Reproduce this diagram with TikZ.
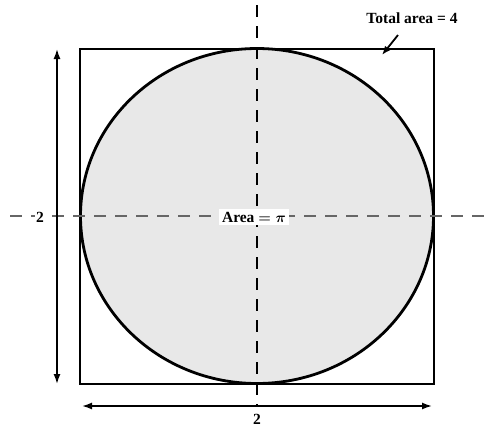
\documentclass[tikz,border=0pt]{standalone}
\usepackage{fontspec}
\setmainfont{Liberation Serif}
\usepackage{amsmath}
\usepackage{tikz}
\usetikzlibrary{arrows.meta}

\tikzset{
  lbl/.style={fill=white,inner sep=2pt,font=\bfseries\boldmath\fontsize{15.5}{18}\selectfont},
  dimarrow/.style={line width=1.6pt,{Latex[length=10pt,width=7pt]}-{Latex[length=10pt,width=7pt]}},
  axisline/.style={line width=1.1pt,gray!80!black,dash pattern=on 12pt off 9pt}
}

\begin{document}
\begin{tikzpicture}[x=1pt,y=-1pt]
                \useasboundingbox (0,0) rectangle (491,426);
                \filldraw[fill=gray!18,line width=2.8pt] (257,216) ellipse (176.5 and 167.5);
                \draw[line width=2pt] (80,49) rectangle (434,384);
                % axes through the centre
                \coordinate (vtop) at (257,5);
                \coordinate (vbot) at (257,406);
                \coordinate (hl) at (10,216);
                \coordinate (hr) at (491,216);
                \draw[axisline,black] (vtop) -- (vbot);
                \draw[axisline] (hl) -- (hr);
                % dimensions
                \coordinate (dl) at (82,406);
                \coordinate (dr) at (432,406);
                \coordinate (dt) at (57,49);
                \coordinate (db) at (57,384);
                \draw[dimarrow] (dl) -- (dr);
                \draw[dimarrow] (dt) -- (db);
                \node[lbl,inner sep=1pt] (wlab) at (257,419) {2};
                \node[lbl,inner sep=1pt] (hlab) at (40,217) {2};
                \node[lbl,inner sep=3pt] (area) at (254,217) {Area $=\pi$};
                \node[lbl,fill=none] (total) at (412,18) {Total area = 4};
                \coordinate (tail) at (398,35);
                \coordinate (edge) at (382,55);
                \draw[line width=1.8pt,-{Latex[length=9pt,width=7pt]}] (tail) -- (edge);
\end{tikzpicture}
\end{document}
